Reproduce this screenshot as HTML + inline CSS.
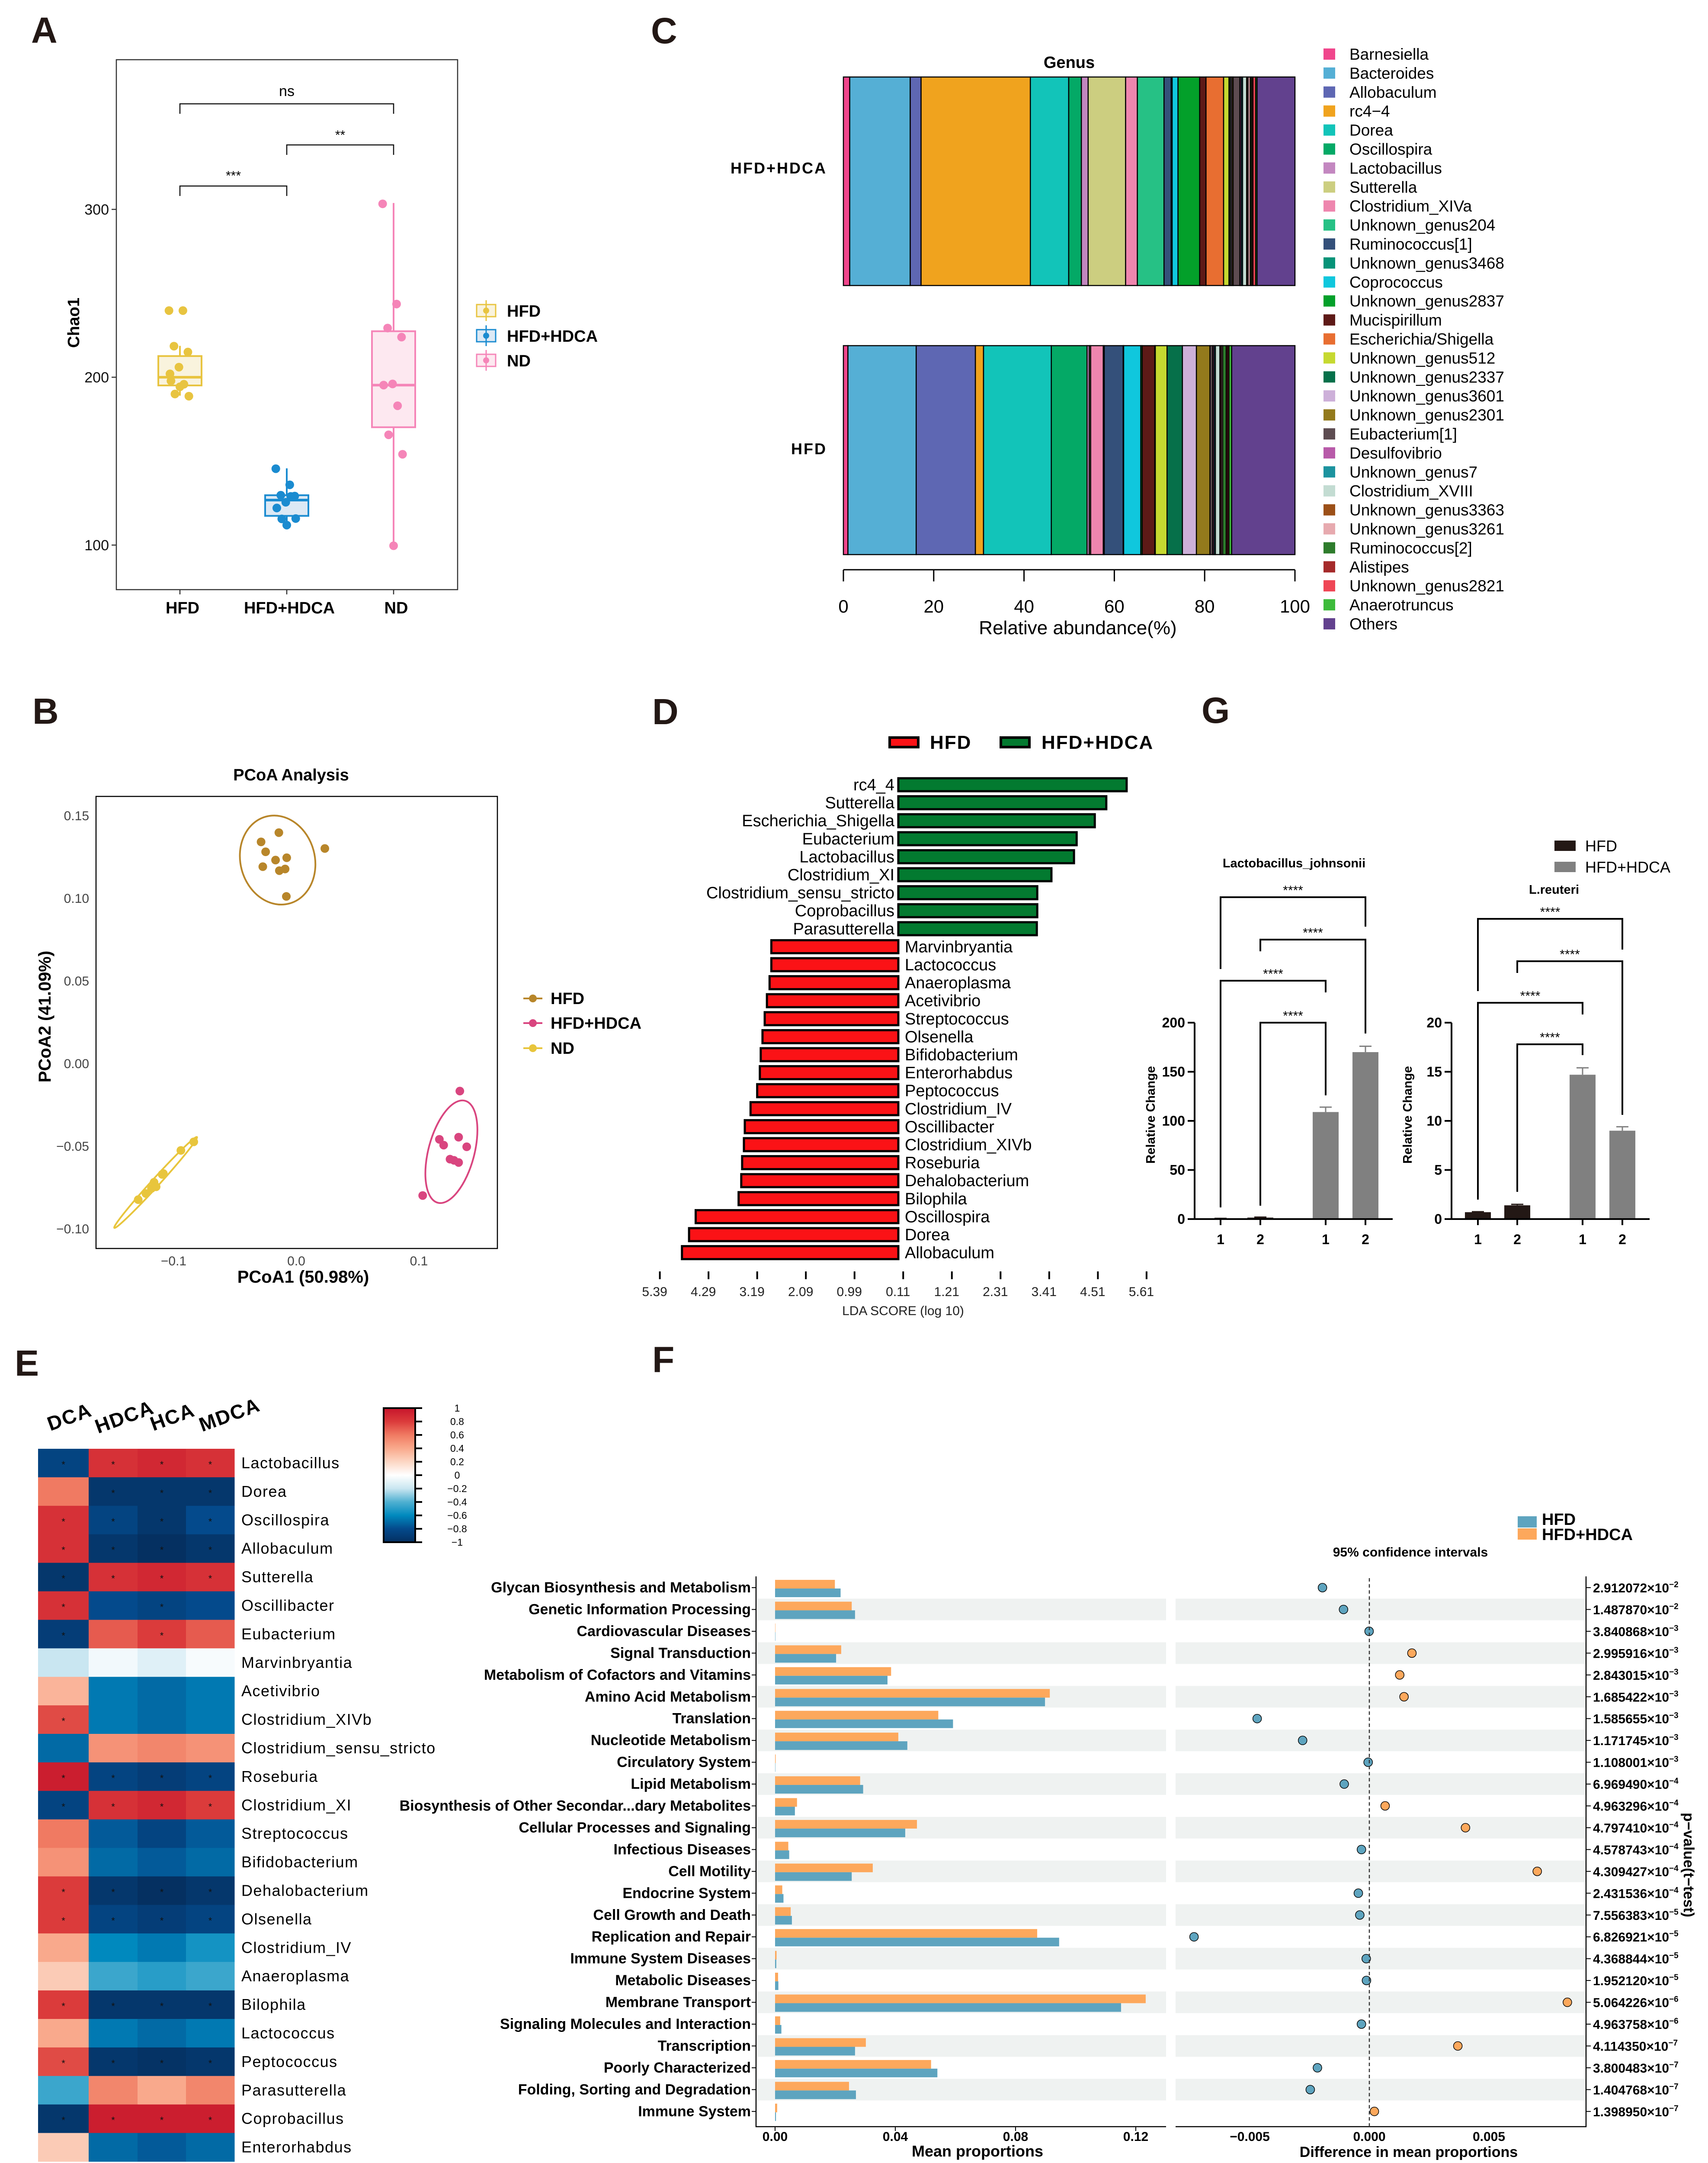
<!DOCTYPE html>
<html><head><meta charset="utf-8"><style>
html,body{margin:0;padding:0;background:#fff;width:3949px;height:5030px;overflow:hidden}
svg{display:block;font-family:"Liberation Sans",sans-serif}
.nar{font-family:"Liberation Sans Narrow","Liberation Sans",sans-serif}
</style></head><body>
<svg id="fig" xmlns="http://www.w3.org/2000/svg" width="3949" height="5030" viewBox="0 0 3949 5030">
<rect x="0" y="0" width="3949" height="5030" fill="#fff"/>
<text x="72" y="99" font-size="84" font-weight="900" fill="#231815">A</text>
<text x="1505" y="100" font-size="84" font-weight="900" fill="#231815">C</text>
<text x="75" y="1673" font-size="84" font-weight="900" fill="#231815">B</text>
<text x="1508" y="1674" font-size="84" font-weight="900" fill="#231815">D</text>
<text x="2778" y="1671" font-size="84" font-weight="900" fill="#231815">G</text>
<text x="34" y="3180" font-size="84" font-weight="900" fill="#231815">E</text>
<text x="1508" y="3172" font-size="84" font-weight="900" fill="#231815">F</text>
</svg>
<script>
const NS='http://www.w3.org/2000/svg';
const svg=document.getElementById('fig');
function mk(tag,attrs,parent){const e=document.createElementNS(NS,tag);for(const k in attrs)e.setAttribute(k,attrs[k]);(parent||svg).appendChild(e);return e;}
function tx(s,attrs,parent){const e=mk('text',attrs,parent);e.textContent=s;return e;}

/* ================= PANEL A data ================= */
const aCats=['HFD','HFD+HDCA','ND'];
const aQ1=[195.1,117.4,170.2];
const aMed=[200,126.8,195.3];
const aQ3=[212.6,129.7,227.4];
const aLo=[189,112.7,99.6];
const aHi=[218.7,145.7,303.8];
const aPtsHFD=[239.7,239.7,218.5,215,206,202,195.8,190,188.7,194.3,197.8];
const aPtsHDCA=[145.5,135.9,129.7,129.2,125.5,122.1,129,115.6,115.8,111.9];
const aPtsND=[303.3,243.6,229.3,223.9,196,195.3,183,165.7,154.1,99.6];
const aTicks=[100,200,300];
const aSig=['***','**','ns'];
(function(){
 const g=mk('g',{});
 
 
 const yA=v=>872-(v-200)*3.88, xA=i=>416+i*247;
 const col=['#e8c440','#1a8bd0','#f585b8'], fil=['#f9f3dd','#dce9f5','#fde8f0'];
 let r=mk('rect',{x:269,y:138,width:789,height:1225,fill:'none',stroke:'#333','stroke-width':2.5},g);
 
 
 aTicks.forEach(t=>{let l=mk('line',{x1:258,x2:269,y1:yA(t),y2:yA(t),stroke:'#333','stroke-width':2.5},g);
  
  
  let s=tx(String(t),{x:252,y:yA(t)+12,'font-size':34,'text-anchor':'end',fill:'#111'},g);
  
  });
 let yl=tx('Chao1',{x:0,y:0,'font-size':38,'font-weight':'bold','text-anchor':'middle',transform:'translate(183,746) rotate(-90)'},g);
 
 
 const pts=[aPtsHFD,aPtsHDCA,aPtsND];
 aCats.forEach((c,i)=>{
  const x=xA(i);
  let w=mk('line',{x1:x,x2:x,y1:yA(aHi[i]),y2:yA(aLo[i]),stroke:col[i],'stroke-width':4},g);
  
  
  let b=mk('rect',{x:x-50,y:yA(aQ3[i]),width:100,height:yA(aQ1[i])-yA(aQ3[i]),fill:fil[i],stroke:col[i],'stroke-width':4},g);
  
  
  let m=mk('line',{x1:x-50,x2:x+50,y1:yA(aMed[i]),y2:yA(aMed[i]),stroke:col[i],'stroke-width':6},g);
  
  
  pts[i].forEach((v,j)=>{const jx=((j*37)%23-11)*2.3;
   let p=mk('circle',{cx:x+jx,cy:yA(v),r:10,fill:col[i]},g);
   
   });
  let tk=mk('line',{x1:x,x2:x,y1:1363,y2:1374,stroke:'#333','stroke-width':2.5},g);
  
  
  let lb=tx(c,{x:x+6,y:1418,'font-size':38,'font-weight':'bold','text-anchor':'middle'},g);
  
  
  let lr=mk('rect',{x:1102,y:[718,776,833][i]-14,width:44,height:28,fill:fil[i],stroke:col[i],'stroke-width':3},g);
  
  
  let ll=mk('line',{x1:1124,x2:1124,y1:[718,776,833][i]-24,y2:[718,776,833][i]+24,stroke:col[i],'stroke-width':3},g);
  
  
  let lc=mk('circle',{cx:1124,cy:[718,776,833][i],r:7,fill:col[i]},g);
  
  
  let lt=tx(c,{x:1172,y:[718,776,833][i]+14,'font-size':38,'font-weight':'bold'},g);
  
  
 });
 const br=[[0,1,430,453,398],[1,2,335,358,304],[0,2,240,263,212]];
 br.forEach((b,k)=>{
  let p=mk('path',{d:`M${xA(b[0])},${b[3]}V${b[2]}H${xA(b[1])}V${b[3]}`,fill:'none',stroke:'#111','stroke-width':2.5},g);
  
  
  let s=tx(aSig[k],{x:(xA(b[0])+xA(b[1]))/2,y:b[4]+(aSig[k]==='ns'?10:18),'font-size':aSig[k]==='ns'?34:30,'text-anchor':'middle'},g);
  
  
 });
})();

/* ================= PANEL C data ================= */
const cGenera=['Barnesiella','Bacteroides','Allobaculum','rc4\u22124','Dorea','Oscillospira','Lactobacillus','Sutterella','Clostridium_XIVa','Unknown_genus204','Ruminococcus[1]','Unknown_genus3468','Coprococcus','Unknown_genus2837','Mucispirillum','Escherichia/Shigella','Unknown_genus512','Unknown_genus2337','Unknown_genus3601','Unknown_genus2301','Eubacterium[1]','Desulfovibrio','Unknown_genus7','Clostridium_XVIII','Unknown_genus3363','Unknown_genus3261','Ruminococcus[2]','Alistipes','Unknown_genus2821','Anaerotruncus','Others'];
const cColors=['#f0468c','#55afd5','#5e67b3','#f0a31e','#12c4b9','#04a966','#c387c0','#ccce80','#ee86ae','#26c185','#34507a','#069378','#10c7dd','#03a02a','#5e1a17','#e86e31','#c6d930','#06704a','#cdb0d9','#937a1c','#5d4c51','#b85aa9','#1c939f','#c3dcd2','#9c5018','#e7aaaf','#2e7c2c','#a52a2a','#ef4655','#3dbb3b','#62418e'];
const cHDCA=[1.4,13.4,2.4,24.2,8.5,2.8,1.5,8.3,2.6,5.9,1.6,0.2,1.3,4.8,1.4,3.9,1.2,0.3,0.3,0.3,1.5,0.3,0.3,0.9,0.3,0.5,0.3,0.3,0.6,0.3,8.4];
const cHFD=[1.0,15.1,13.1,1.8,15.0,7.9,0.5,0.3,2.8,0.2,4.2,0.1,3.8,0.3,2.8,0.1,2.6,3.4,3.1,3.0,0.6,0.3,0.3,1.0,0.3,0.3,0.8,0.3,0.3,0.6,14.0];
const cTicks=[0,20,40,60,80,100];
(function(){
 const g=mk('g',{});
 
 
 const xC=p=>1950+p/100*1044;
 let t=tx('Genus',{x:2472,y:157,'font-size':38,'font-weight':'bold','text-anchor':'middle'},g);
 
 
 [[cHDCA,178,660,'HFD+HDCA',388],[cHFD,799,1282,'HFD',1037]].forEach(([vals,y0,y1,lab,ly])=>{
  const tot=vals.reduce((a,b)=>a+b,0);let cum=0;
  vals.forEach((v,i)=>{const p0=cum/tot*100;cum+=v;const p1=cum/tot*100;
   let r=mk('rect',{x:xC(p0),y:y0,width:xC(p1)-xC(p0),height:y1-y0,fill:cColors[i],stroke:'#000','stroke-width':2.5},g);
   
   });
  let l=tx(lab,{x:1912,y:ly+13,'font-size':36,'font-weight':'bold','text-anchor':'end','letter-spacing':3},g);
  
  
 });
 let ax=mk('line',{x1:xC(0),x2:xC(100),y1:1317,y2:1317,stroke:'#000','stroke-width':3},g);
 
 
 cTicks.forEach(v=>{let k=mk('line',{x1:xC(v),x2:xC(v),y1:1317,y2:1344,stroke:'#000','stroke-width':3},g);
  
  
  let s=tx(String(v),{x:xC(v),y:1416,'font-size':42,'text-anchor':'middle','class':'nar'},g);
  
  });
 let at=tx('Relative abundance(%)',{x:2492,y:1466,'font-size':44,'text-anchor':'middle','class':'nar'},g);
 
 
 cGenera.forEach((n,i)=>{const y=125+i*43.9;
  let r=mk('rect',{x:3060,y:y-13,width:27,height:26,fill:cColors[i]},g);
  
  
  let s=tx(n,{x:3120,y:y+13,'font-size':37,'class':'nar'},g);
  
  });
})();

/* ================= PANEL B data ================= */
const bGroups=['HFD','HFD+HDCA','ND'];
const bHFDx=[-0.0287,-0.0142,-0.0250,-0.0169,-0.0078,-0.0273,-0.0138,-0.0091,-0.0081,0.0233];
const bHFDy=[0.134,0.1396,0.128,0.123,0.1244,0.119,0.1166,0.1176,0.101,0.130];
const bHDCAx=[0.1334,0.1167,0.1202,0.1324,0.1390,0.1254,0.1286,0.1324,0.1031];
const bHDCAy=[-0.0168,-0.046,-0.0495,-0.0447,-0.0505,-0.058,-0.0587,-0.060,-0.080];
const bNDx=[-0.1289,-0.1226,-0.1181,-0.1160,-0.1143,-0.1094,-0.1084,-0.0941,-0.0836];
const bNDy=[-0.0825,-0.0788,-0.0757,-0.072,-0.0747,-0.0672,-0.0667,-0.0527,-0.0475];
const bEllCx=[-0.0152,0.1265,-0.1147];
const bEllCy=[0.123,-0.0535,-0.0721];
const bXTicks=[-0.1,0.0,0.1];
const bYTicks=[-0.10,-0.05,0.00,0.05,0.10,0.15];
(function(){
 const g=mk('g',{});
 
 
 const xB=v=>685+v*2835, yB=v=>2458-v*3820;
 const col=['#b8862a','#d9457f','#e8c53c'];
 let t=tx('PCoA Analysis',{x:673,y:1804,'font-size':38,'font-weight':'bold','text-anchor':'middle'},g);
 
 
 let f=mk('rect',{x:222,y:1841,width:928,height:1045,fill:'none',stroke:'#000','stroke-width':2.5},g);
 
 
 bYTicks.forEach(v=>{let s=tx(v<0?'\u2212'+Math.abs(v).toFixed(2):v.toFixed(2),{x:206,y:yB(v)+11,'font-size':30,'text-anchor':'end',fill:'#444'},g);
  
  });
 bXTicks.forEach(v=>{let s=tx(v<0?'\u2212'+Math.abs(v).toFixed(1):v.toFixed(1),{x:xB(v),y:2925,'font-size':30,'text-anchor':'middle',fill:'#444'},g);
  
  });
 let xt=tx('PCoA1 (50.98%)',{x:701,y:2965,'font-size':40,'font-weight':'bold','text-anchor':'middle'},g);
 
 
 let yt=tx('PCoA2 (41.09%)',{x:0,y:0,'font-size':40,'font-weight':'bold','text-anchor':'middle',transform:'translate(117,2350) rotate(-90)'},g);
 
 
 const ell=[[86,104,-15],[53,122,15],[142,9,-47.7]];
 bGroups.forEach((n,i)=>{const cx=xB(bEllCx[i]),cy=yB(bEllCy[i]);
  let e=mk('ellipse',{cx:cx,cy:cy,rx:ell[i][0],ry:ell[i][1],transform:`rotate(${ell[i][2]} ${cx} ${cy})`,fill:'none',stroke:col[i],'stroke-width':4},g);
  
  });
 [[bHFDx,bHFDy],[bHDCAx,bHDCAy],[bNDx,bNDy]].forEach(([xs,ys],i)=>{xs.forEach((x,j)=>{
  let c=mk('circle',{cx:xB(x),cy:yB(ys[j]),r:10,fill:col[i]},g);
  
  });});
 bGroups.forEach((n,i)=>{const y=[2308,2365,2423][i];
  let l=mk('line',{x1:1210,x2:1254,y1:y,y2:y,stroke:col[i],'stroke-width':4},g);
  
  
  let c=mk('circle',{cx:1232,cy:y,r:9,fill:col[i]},g);
  
  
  let s=tx(n,{x:1273,y:y+13,'font-size':38,'font-weight':'bold'},g);
  
  });
})();

/* ================= PANEL D data ================= */
const dTaxa=['rc4_4','Sutterella','Escherichia_Shigella','Eubacterium','Lactobacillus','Clostridium_XI','Clostridium_sensu_stricto','Coprobacillus','Parasutterella','Marvinbryantia','Lactococcus','Anaeroplasma','Acetivibrio','Streptococcus','Olsenella','Bifidobacterium','Enterorhabdus','Peptococcus','Clostridium_IV','Oscillibacter','Clostridium_XIVb','Roseburia','Dehalobacterium','Bilophila','Oscillospira','Dorea','Allobaculum'];
const dLDA=[5.16,4.70,4.44,4.03,3.97,3.46,3.14,3.14,3.13,2.87,2.87,2.91,2.97,3.02,3.07,3.11,3.13,3.19,3.34,3.47,3.49,3.53,3.55,3.61,4.58,4.73,4.89];
const dGroup=['HFD+HDCA','HFD+HDCA','HFD+HDCA','HFD+HDCA','HFD+HDCA','HFD+HDCA','HFD+HDCA','HFD+HDCA','HFD+HDCA','HFD','HFD','HFD','HFD','HFD','HFD','HFD','HFD','HFD','HFD','HFD','HFD','HFD','HFD','HFD','HFD','HFD','HFD'];
const dTickVals=[-5.39,-4.29,-3.19,-2.09,-0.99,0.11,1.21,2.31,3.41,4.51,5.61];
(function(){
 const g=mk('g',{});
 
 
 const xD=v=>2077+v*102.3, yD=i=>1814+i*41.6;
 dTaxa.forEach((n,i)=>{const hdca=dGroup[i]==='HFD+HDCA';const v=hdca?dLDA[i]:-dLDA[i];
  const x0=Math.min(xD(0),xD(v)),w=Math.abs(xD(v)-xD(0));
  let r=mk('rect',{x:x0,y:yD(i)-15,width:w,height:30,fill:hdca?'#037a30':'#fb1216',stroke:'#000','stroke-width':5},g);
  
  
  let s=tx(n,{x:hdca?2068:2092,y:yD(i)+13,'font-size':38,'text-anchor':hdca?'end':'start'},g);
  
  });
 dTickVals.forEach(v=>{let k=mk('line',{x1:xD(v),x2:xD(v),y1:2939,y2:2957,stroke:'#000','stroke-width':4},g);
  
  
  let s=tx(Math.abs(v).toFixed(2),{x:xD(v)-12,y:2996,'font-size':30,'text-anchor':'middle',fill:'#222'},g);
  
  });
 let at=tx('LDA SCORE (log 10)',{x:2088,y:3040,'font-size':30,'text-anchor':'middle',fill:'#222'},g);
 
 
 [['HFD','#fb1216',2057,2150],['HFD+HDCA','#037a30',2314,2408]].forEach(([n,c,rx,tx0])=>{
  let r=mk('rect',{x:rx,y:1705,width:66,height:22,fill:c,stroke:'#000','stroke-width':6},g);
  
  
  let s=tx(n,{x:tx0,y:1731,'font-size':44,'font-weight':'bold','letter-spacing':2},g);
  
  });
})();

/* ================= PANEL G data ================= */
const gCats=['1','2','1','2'];
const gJohnsonii=[0.5,1.5,109,170];
const gJohnsoniiErr=[0.2,0.5,5,6];
const gReuteri=[0.7,1.4,14.7,9.0];
const gReuteriErr=[0.05,0.1,0.7,0.4];
const gTicks1=[0,50,100,150,200];
const gTicks2=[0,5,10,15,20];
const gSigLabel='****';
(function(){
 const g=mk('g',{});
 
 
 const col=['#231815','#231815','#808080','#808080'];
 function chart(title,vals,errs,ticks,ymax,axX,xs,titleX,titleY,brk){
  const y=v=>2818-v/ymax*454;
  let t=tx(title,{x:titleX,y:titleY,'font-size':29,'font-weight':'bold','text-anchor':'middle'},g);
  
  
  vals.forEach((v,i)=>{
   let r=mk('rect',{x:xs[i]-30,y:y(v),width:60,height:2818-y(v),fill:col[i]},g);
   
   
   let e=mk('path',{d:`M${xs[i]},${y(v)}V${y(v+errs[i])}M${xs[i]-14},${y(v+errs[i])}H${xs[i]+14}`,stroke:col[i],'stroke-width':3,fill:'none'},g);
   
   
   let k=mk('line',{x1:xs[i],x2:xs[i],y1:2818,y2:2832,stroke:'#000','stroke-width':4},g);
   
   
   let s=tx(gCats[i],{x:xs[i],y:2876,'font-size':32,'font-weight':'bold','text-anchor':'middle'},g);
   
   });
  let ax=mk('path',{d:`M${axX},${y(ymax)}V2818M${axX-16},2818H${axX+458}`,stroke:'#000','stroke-width':4,fill:'none'},g);
  
  
  ticks.forEach(v=>{let k=mk('line',{x1:axX-16,x2:axX,y1:y(v),y2:y(v),stroke:'#000','stroke-width':4},g);
   
   
   let s=tx(String(v),{x:axX-22,y:y(v)+11,'font-size':32,'font-weight':'bold','text-anchor':'end'},g);
   
   });
  let yl=tx('Relative Change',{x:0,y:0,'font-size':29,'font-weight':'bold','text-anchor':'middle',transform:`translate(${axX-92},2577) rotate(-90)`},g);
  
  
  brk.forEach(b=>{const xa=xs[b[0]],xb=xs[b[1]];
   let p=mk('path',{d:`M${xa},${b[3]}V${b[2]}H${xb}V${b[4]}`,stroke:'#000','stroke-width':4,fill:'none'},g);
   
   
   let s=tx(gSigLabel,{x:(xa+xb)/2,y:b[2]-6,'font-size':30,'text-anchor':'middle'},g);
   
   });
 }
 chart('Lactobacillus_johnsonii',gJohnsonii,gJohnsoniiErr,gTicks1,200,2762,[2822,2914,3065,3157],2992,2005,
  [[0,3,2074,2240,2142],[1,3,2172,2199,2389],[0,2,2267,2791,2294],[1,2,2364,2787,2532]]);
 chart('L.reuteri',gReuteri,gReuteriErr,gTicks2,20,3356,[3417,3508,3659,3751],3593,2066,
  [[0,3,2124,2291,2195],[1,3,2222,2249,2577],[0,2,2318,2773,2345],[1,2,2414,2755,2439]]);
 [['HFD','#231815',1955],['HFD+HDCA','#808080',2004]].forEach(([n,c,yy])=>{
  let r=mk('rect',{x:3594,y:yy-12,width:49,height:24,fill:c},g);
  
  
  let s=tx(n,{x:3665,y:yy+13,'font-size':36},g);
  
  });
})();

/* ================= PANEL E data ================= */
const eCols=['DCA','HDCA','HCA','MDCA'];
const eRows=['Lactobacillus','Dorea','Oscillospira','Allobaculum','Sutterella','Oscillibacter','Eubacterium','Marvinbryantia','Acetivibrio','Clostridium_XIVb','Clostridium_sensu_stricto','Roseburia','Clostridium_XI','Streptococcus','Bifidobacterium','Dehalobacterium','Olsenella','Clostridium_IV','Anaeroplasma','Bilophila','Lactococcus','Peptococcus','Parasutterella','Coprobacillus','Enterorhabdus'];
const eDCA=[-0.85,0.6,0.85,0.85,-0.95,0.85,-0.9,-0.2,0.35,0.75,-0.7,0.95,-0.85,0.6,0.5,0.8,0.8,0.4,0.25,0.8,0.4,0.75,-0.45,-0.95,0.25];
const eHDCA=[0.85,-0.95,-0.85,-0.95,0.85,-0.8,0.7,-0.05,-0.65,-0.65,0.5,-0.85,0.85,-0.75,-0.7,-0.95,-0.85,-0.6,-0.45,-0.95,-0.65,-0.95,0.55,0.95,-0.7];
const eHCA=[0.9,-0.95,-0.95,-1,0.9,-0.85,0.8,-0.12,-0.7,-0.7,0.55,-0.9,0.9,-0.85,-0.75,-1,-0.9,-0.65,-0.5,-0.95,-0.7,-0.98,0.4,0.95,-0.75];
const eMDCA=[0.85,-0.95,-0.8,-0.95,0.85,-0.8,0.7,-0.03,-0.65,-0.65,0.5,-0.85,0.8,-0.75,-0.7,-0.95,-0.85,-0.55,-0.45,-0.95,-0.65,-0.95,0.55,0.95,-0.7];
const eSig=['1111','0111','1111','1111','1111','1010','1010','0000','0000','1000','0000','1111','1111','0000','0000','1111','1111','0000','0000','1111','0000','1111','0000','1111','0000'];
const eLegendTicks=[1,0.8,0.6,0.4,0.2,0,-0.2,-0.4,-0.6,-0.8,-1];
(function(){
 const g=mk('g',{});
 
 
 const stops=[[-1,[5,48,97]],[-0.8,[4,74,140]],[-0.6,[0,137,190]],[-0.4,[79,176,209]],[-0.2,[201,230,241]],[0,[255,255,255]],[0.2,[252,214,196]],[0.4,[249,169,140]],[0.6,[240,122,98]],[0.8,[219,59,59]],[1,[198,20,43]]];
 function cs(v){for(let i=0;i<stops.length-1;i++){const[a,ca]=stops[i],[b,cb]=stops[i+1];if(v<=b){const t=(v-a)/(b-a);return 'rgb('+ca.map((c,k)=>Math.round(c+(cb[k]-c)*t)).join(',')+')';}}return 'rgb(198,20,43)';}
 const xs=[88,205,318,430,542], y=i=>3349+i*65.9;
 const data=[eDCA,eHDCA,eHCA,eMDCA];
 eRows.forEach((rn,i)=>{
  data.forEach((arr,j)=>{
   let r=mk('rect',{x:xs[j],y:y(i),width:xs[j+1]-xs[j]+0.5,height:66.5,fill:cs(arr[i])},g);
   
   
   if(eSig[i][j]==='1'){let s=tx('*',{x:(xs[j]+xs[j+1])/2,y:y(i)+44,'font-size':22,'text-anchor':'middle',fill:'#111'},g);
    
    }
  });
  let l=tx(rn,{x:558,y:y(i)+45,'font-size':36,'letter-spacing':1.5},g);
  
  
 });
 const cp=[[166,3290],[293,3290],[404,3290],[536,3285]];
 eCols.forEach((c,j)=>{let s=tx(c,{x:0,y:0,'font-size':46,'font-weight':'bold','text-anchor':'middle','letter-spacing':2,transform:`translate(${cp[j][0]},${cp[j][1]}) rotate(-20)`},g);
  
  });
 const defs=mk('defs',{},g);
 const lg=mk('linearGradient',{id:'cbar',x1:0,y1:0,x2:0,y2:1},defs);
 for(let k=0;k<=20;k++){const v=1-k/10;mk('stop',{offset:k/20,'stop-color':cs(v)},lg);}
 let cb=mk('rect',{x:887,y:3255,width:73,height:310,fill:'url(#cbar)',stroke:'#000','stroke-width':4},g);
 
 
 eLegendTicks.forEach((v,k)=>{const yy=3255+k*31;
  let t=mk('line',{x1:960,x2:976,y1:yy,y2:yy,stroke:'#000','stroke-width':4},g);
  
  
  let s=tx(v<0?'\u2212'+Math.abs(v):String(v),{x:1057,y:yy+8,'font-size':23,'text-anchor':'middle'},g);
  
  });
})();

/* ================= PANEL F data ================= */
const fPaths=['Glycan Biosynthesis and Metabolism','Genetic Information Processing','Cardiovascular Diseases','Signal Transduction','Metabolism of Cofactors and Vitamins','Amino Acid Metabolism','Translation','Nucleotide Metabolism','Circulatory System','Lipid Metabolism','Biosynthesis of Other Secondar...dary Metabolites','Cellular Processes and Signaling','Infectious Diseases','Cell Motility','Endocrine System','Cell Growth and Death','Replication and Repair','Immune System Diseases','Metabolic Diseases','Membrane Transport','Signaling Molecules and Interaction','Transcription','Poorly Characterized','Folding, Sorting and Degradation','Immune System'];
const fHDCA=[0.0199,0.0255,0.0001,0.022,0.0386,0.0914,0.0543,0.041,0.0002,0.0283,0.0073,0.0472,0.0044,0.0325,0.0024,0.0052,0.0872,0.0005,0.001,0.1233,0.0017,0.0302,0.0519,0.0246,0.0007];
const fHFD=[0.0218,0.0266,0.0001,0.0203,0.0374,0.0898,0.0592,0.044,0.0001,0.0293,0.0066,0.0433,0.0047,0.0255,0.0028,0.0056,0.0945,0.0004,0.0011,0.1151,0.0021,0.0266,0.054,0.0269,0.0003];
const fDiff=[-0.00196,-0.00108,-0.00001,0.00178,0.00127,0.00145,-0.00469,-0.00279,-0.00005,-0.00105,0.00066,0.00402,-0.00033,0.00702,-0.00046,-0.0004,-0.00733,-0.00013,-0.00012,0.00828,-0.00033,0.0037,-0.00217,-0.00247,0.00021];
const fPMant=['2.912072','1.487870','3.840868','2.995916','2.843015','1.685422','1.585655','1.171745','1.108001','6.969490','4.963296','4.797410','4.578743','4.309427','2.431536','7.556383','6.826921','4.368844','1.952120','5.064226','4.963758','4.114350','3.800483','1.404768','1.398950'];
const fPExp=[2,2,3,3,3,3,3,3,3,4,4,4,4,4,4,5,5,5,5,6,6,7,7,7,7];
const fMeanTicks=[0,0.04,0.08,0.12];
const fDiffTicks=[-0.005,0,0.005];
(function(){
 const g=mk('g',{});
 
 
 const xF=v=>1792+v*6950, xF2=v=>3166+v*55300, yF=i=>3670+i*50.45;
 const orange='#fda85c', blue='#5ea4bf';
 fPaths.forEach((n,i)=>{const c=yF(i);
  if(i%2===1){
   let b1=mk('rect',{x:1750,y:c-25,width:946,height:50,fill:'#eff2f1'},g);
   
   
   let b2=mk('rect',{x:2718,y:c-25,width:949,height:50,fill:'#eff2f1'},g);
   
   }
 });
 fPaths.forEach((n,i)=>{const c=yF(i);
  let o=mk('rect',{x:xF(0),y:c-18,width:xF(fHDCA[i])-xF(0),height:20,fill:orange},g);
  
  
  let b=mk('rect',{x:xF(0),y:c+2,width:xF(fHFD[i])-xF(0),height:20,fill:blue},g);
  
  
  let l=tx(n,{x:1736,y:c+11,'font-size':34,'font-weight':'bold','text-anchor':'end','class':'nar'},g);
  
  
  let tk=mk('line',{x1:1738,x2:1748,y1:c,y2:c,stroke:'#000','stroke-width':2},g);
  
  
  let d=mk('circle',{cx:xF2(fDiff[i]),cy:c,r:10,fill:fDiff[i]<0?blue:orange,stroke:'#000','stroke-width':1.5},g);
  
  
  let pt=tx(fPMant[i]+'\u00d710',{x:3683,y:c+11,'font-size':30,'font-weight':'bold'},g);
  
  
  const sp=mk('tspan',{'font-size':19,dy:-12},pt);sp.textContent='\u2212'+fPExp[i];
  let pk=mk('line',{x1:3667,x2:3678,y1:c,y2:c,stroke:'#000','stroke-width':2},g);
  
  
 });
 let ax=mk('path',{d:'M1748,3644V4916H2696M2718,4916H3667V3644',stroke:'#000','stroke-width':2.5,fill:'none'},g);
 
 
 let z=mk('line',{x1:xF2(0),x2:xF2(0),y1:3648,y2:4916,stroke:'#333','stroke-width':2.5,'stroke-dasharray':'8,6'},g);
 
 
 fMeanTicks.forEach(v=>{let s=tx(v.toFixed(2),{x:xF(v),y:4949,'font-size':30,'font-weight':'bold','text-anchor':'middle','class':'nar'},g);
  
  
  let k=mk('line',{x1:xF(v),x2:xF(v),y1:4916,y2:4926,stroke:'#000','stroke-width':2},g);
  
  });
 fDiffTicks.forEach(v=>{let s=tx(v<0?'\u2212'+Math.abs(v).toFixed(3):v.toFixed(3),{x:xF2(v),y:4949,'font-size':30,'font-weight':'bold','text-anchor':'middle'},g);
  
  });
 let t1=tx('Mean proportions',{x:2260,y:4985,'font-size':36,'font-weight':'bold','text-anchor':'middle','class':'nar'},g);
 
 
 let t2=tx('Difference in mean proportions',{x:3257,y:4986,'font-size':34,'font-weight':'bold','text-anchor':'middle'},g);
 
 
 let t3=tx('95% confidence intervals',{x:3261,y:3598,'font-size':30,'font-weight':'bold','text-anchor':'middle'},g);
 
 
 let t4=tx('p\u2212value(t\u2212test)',{x:0,y:0,'font-size':34,'font-weight':'bold','text-anchor':'middle',transform:'translate(3893,4311) rotate(90)','class':'nar'},g);
 
 
 [['HFD',blue,3505,3525],['HFD+HDCA',orange,3533,3560]].forEach(([n,c,ry,ty])=>{
  let r=mk('rect',{x:3509,y:ry,width:44,height:26,fill:c},g);
  
  
  let s=tx(n,{x:3565,y:ty,'font-size':38,'font-weight':'bold'},g);
  
  });
})();
</script>
</body></html>
